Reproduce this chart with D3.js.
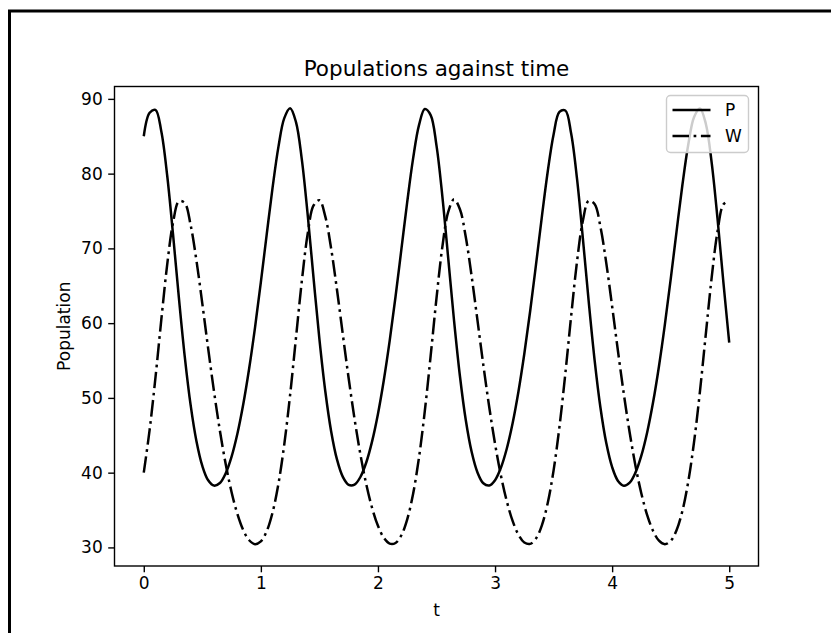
<!DOCTYPE html>
<html><head><meta charset="utf-8">
<script src="https://cdn.jsdelivr.net/npm/d3@7"></script>
<style>
html,body{margin:0;padding:0;background:#fff;overflow:hidden;}
svg{display:block;}
text{font-family:'DejaVu Sans',sans-serif;fill:#000;}
</style>
</head><body>
<svg id="chart" width="831" height="633"></svg>
<script>
// ---- data ----
const tValues = [0.00,0.05,0.10,0.15,0.20,0.25,0.30,0.35,0.40,0.45,0.50,0.55,0.60,0.65,0.70,0.75,0.80,0.85,0.90,0.95,
  1.00,1.05,1.10,1.15,1.20,1.25,1.30,1.35,1.40,1.45,1.50,1.55,1.60,1.65,1.70,1.75,1.80,1.85,1.90,1.95,
  2.00,2.05,2.10,2.15,2.20,2.25,2.30,2.35,2.40,2.45,2.50,2.55,2.60,2.65,2.70,2.75,2.80,2.85,2.90,2.95,
  3.00,3.05,3.10,3.15,3.20,3.25,3.30,3.35,3.40,3.45,3.50,3.55,3.60,3.65,3.70,3.75,3.80,3.85,3.90,3.95,
  4.00,4.05,4.10,4.15,4.20,4.25,4.30,4.35,4.40,4.45,4.50,4.55,4.60,4.65,4.70,4.75,4.80,4.85,4.90,4.95,5.00];
const pValues = [85.00,88.14,88.52,85.64,79.75,71.86,63.38,55.53,49.06,44.20,40.90,38.98,38.27,38.62,39.93,42.15,45.24,49.18,53.93,59.41,
  65.48,71.87,78.12,83.58,87.42,88.74,86.89,81.87,74.47,66.02,57.86,50.92,45.55,41.77,39.44,38.37,38.40,39.42,41.36,44.18,
  47.85,52.36,57.62,63.53,69.86,76.21,82.00,86.45,88.64,87.83,83.75,76.97,68.69,60.32,52.93,47.05,42.79,40.03,38.58,38.28,
  39.00,40.66,43.20,46.61,50.86,55.90,61.62,67.85,74.25,80.29,85.25,88.25,88.44,85.36,79.32,71.35,62.87,55.10,48.72,43.96,
  40.74,38.90,38.26,38.67,40.04,42.31,45.45,49.44,54.24,59.77,65.86,72.25,78.48,83.87,87.58,88.72,86.68,81.48,73.97,65.50,57.40];
const wValues = [40.00,45.73,52.75,60.49,67.83,73.45,76.30,76.06,73.13,68.36,62.61,56.60,50.84,45.63,41.12,37.39,34.45,32.30,30.96,30.44,
  30.80,32.17,34.68,38.51,43.78,50.44,58.05,65.65,71.95,75.74,76.45,74.29,70.00,64.47,58.48,52.60,47.19,42.45,38.47,35.28,
  32.89,31.29,30.51,30.59,31.63,33.76,37.16,41.97,48.22,55.61,63.35,70.20,74.87,76.56,75.24,71.52,66.28,60.36,54.40,48.82,
  43.85,39.63,36.20,33.55,31.70,30.66,30.47,31.19,32.96,35.95,40.31,46.12,53.21,60.96,68.23,73.71,76.37,75.95,72.89,68.03,
  62.24,56.24,50.51,45.33,40.87,37.19,34.29,32.20,30.90,30.43,30.86,32.29,34.87,38.79,44.15,50.88,58.52,66.09,72.26,75.87,76.40];
const xTicks = [0,1,2,3,4,5];
const yTicks = [30,40,50,60,70,80,90];
const seriesNames = ["P","W"];
const titleText = "Populations against time";
const xLabel = "t";
const yLabel = "Population";

// ---- layout ----
const L = 114.5, R = 758.5, T = 86.5, B = 566;
const svg = d3.select("#chart");

// outer frame: only the top and left edges are visible
svg.append("path").attr("d", "M9.5,640 V11 H840")
  .attr("fill", "none").attr("stroke", "#000").attr("stroke-width", 3);

const xMin = d3.min(tValues), xMax = d3.max(tValues);
const xPad = (xMax - xMin) * 0.05;
const allY = pValues.concat(wValues);
const yMin = d3.min(allY), yMax = d3.max(allY);
const yPad = (yMax - yMin) * 0.05;

const x = d3.scaleLinear().domain([xMin - xPad, xMax + xPad]).range([L, R]);
const y = d3.scaleLinear().domain([yMin - yPad, yMax + yPad]).range([B, T]);

const data = tValues.map((t, i) => ({t, p: pValues[i], w: wValues[i]}));

const g = svg.append("g");
g.append("defs").append("clipPath").attr("id", "clip")
  .append("rect").attr("x", L).attr("y", T).attr("width", R - L).attr("height", B - T);

const lineP = d3.line().x(d => x(d.t)).y(d => y(d.p)).curve(d3.curveCatmullRom.alpha(0.5));
const lineW = d3.line().x(d => x(d.t)).y(d => y(d.w)).curve(d3.curveCatmullRom.alpha(0.5));
const dashDot = "16.5,4.6,2.7,4.6";

g.append("path").datum(data).attr("d", lineP).attr("fill", "none")
  .attr("stroke", "#000").attr("stroke-width", 2.5).attr("clip-path", "url(#clip)");
g.append("path").datum(data).attr("d", lineW).attr("fill", "none")
  .attr("stroke", "#000").attr("stroke-width", 2.5).attr("stroke-dasharray", dashDot)
  .attr("clip-path", "url(#clip)");

// axes
const xAxis = d3.axisBottom(x).tickValues(xTicks).tickFormat(d3.format("d")).tickSize(6.3).tickPadding(5);
const yAxis = d3.axisLeft(y).tickValues(yTicks).tickFormat(d3.format("d")).tickSize(6.3).tickPadding(5.5);
const gx = svg.append("g").attr("transform", `translate(0,${B})`).call(xAxis);
const gy = svg.append("g").attr("transform", `translate(${L},0)`).call(yAxis);
[gx, gy].forEach(a => {
  a.select(".domain").remove();
  a.selectAll(".tick line").attr("stroke", "#000").attr("stroke-width", 1.4);
  a.selectAll(".tick text").attr("font-size", 17).attr("fill", "#000")
    .style("font-family", "'DejaVu Sans',sans-serif");
});

// spines
svg.append("rect").attr("x", L).attr("y", T).attr("width", R - L).attr("height", B - T)
  .attr("fill", "none").attr("stroke", "#000").attr("stroke-width", 1.4);

// title and labels
svg.append("text").attr("x", (L + R) / 2).attr("y", 76).attr("text-anchor", "middle")
  .attr("font-size", 21.5).text(titleText);
svg.append("text").attr("x", (L + R) / 2).attr("y", 616).attr("text-anchor", "middle")
  .attr("font-size", 17).text(xLabel);
svg.append("text").attr("transform", `translate(70,${(T + B) / 2}) rotate(-90)`)
  .attr("text-anchor", "middle").attr("font-size", 17).text(yLabel);

// legend
const lg = svg.append("g");
lg.append("rect").attr("x", 666.5).attr("y", 95.5).attr("width", 82).attr("height", 57)
  .attr("rx", 4).attr("ry", 4).attr("fill", "#fff").attr("fill-opacity", 0.8)
  .attr("stroke", "#ccc").attr("stroke-width", 1.4);
const legendRows = [
  {name: seriesNames[0], dash: null, yy: 110},
  {name: seriesNames[1], dash: dashDot, yy: 136}
];
legendRows.forEach(r => {
  const ln = lg.append("line").attr("x1", 672.5).attr("x2", 710.5).attr("y1", r.yy).attr("y2", r.yy)
    .attr("stroke", "#000").attr("stroke-width", 2.5);
  if (r.dash) ln.attr("stroke-dasharray", r.dash);
  lg.append("text").attr("x", 725).attr("y", r.yy + 6).attr("font-size", 17).text(r.name);
});
</script>
</body></html>
